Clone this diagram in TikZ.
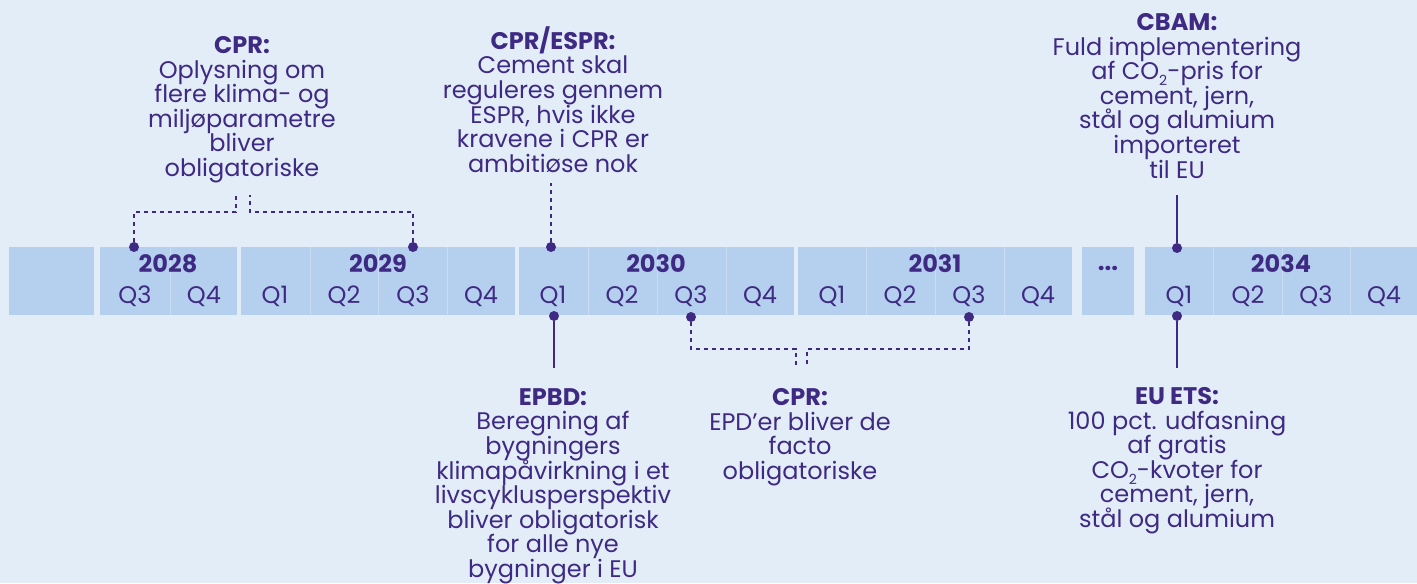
\documentclass[tikz,border=0pt]{standalone}
\usepackage{fontspec}
\setmainfont{Poppins}
\definecolor{bgblue}{HTML}{E3EDF8}
\definecolor{cellblue}{HTML}{B5D0EE}
\definecolor{sepblue}{HTML}{C9DCF2}
\definecolor{ink}{HTML}{3F2A83}
\newcommand{\cotwo}{CO\raisebox{-0.45ex}{\fontsize{7}{7}\selectfont 2}}
\newcommand{\tightlines}{\lineskiplimit=-20pt\relax}

\begin{document}
\begin{tikzpicture}[x=0.5pt,y=-0.5pt,
  qlabel/.style={text=ink,font=\fontsize{12}{12}\selectfont},
  year/.style={text=ink,font=\fontsize{12}{12}\selectfont\bfseries},
  note/.style={text=ink,align=center,inner sep=0pt,anchor=north,
    font=\fontsize{12}{12.3}\selectfont\tightlines},
  dot/.style={circle,fill=ink,inner sep=0pt,minimum size=5pt},
  link/.style={draw=ink,line width=0.7pt},
  dashlink/.style={draw=ink,line width=0.7pt,dash pattern=on 2pt off 2pt}]
	\useasboundingbox (0,0) rectangle (1417,583);
	\clip (0,0) rectangle (1417,583);
	\fill[bgblue] (0,0) rectangle (1417,583);

	% the bar
	\fill[cellblue] (9,247) rectangle (94,315);
	\fill[cellblue] (100,247) rectangle (237,315);
	\fill[cellblue] (241,247) rectangle (515,315);
	\fill[cellblue] (519,247) rectangle (794,315);
	\fill[cellblue] (798,247) rectangle (1072,315);
	\fill[cellblue] (1082,247) rectangle (1134,315);
	\fill[cellblue] (1145,247) rectangle (1417,315);
	\foreach \x in {170,310,378,447,588,657,726,866,935,1004,1213,1282,1350}
		\draw[sepblue,line width=0.5pt] (\x,247) -- (\x,315);

	\node[year] (y28) at (168,264) {2028};
	\node[year] (y29) at (378,264) {2029};
	\node[year] (y30) at (656,264) {2030};
	\node[year] (y31) at (935,264) {2031};
	\node[year] (y34) at (1281,264) {2034};
	\node[year] (more) at (1108,268) {...};
	\foreach \x/\q in {135/Q3,204/Q4,275/Q1,344/Q2,413/Q3,481/Q4,553/Q1,622/Q2,691/Q3,760/Q4,
		832/Q1,900/Q2,969/Q3,1038/Q4,1179/Q1,1248/Q2,1316/Q3,1384/Q4}
		\node[qlabel] at (\x,296) {\q};

	% markers
	\node[dot] (d28) at (134,247) {};
	\node[dot] (d29) at (413,247) {};
	\node[dot] (dEspr) at (551,247) {};
	\node[dot] (dCbam) at (1177,248) {};
	\node[dot] (dEpbd) at (554,316) {};
	\node[dot] (dCprA) at (691,317) {};
	\node[dot] (dCprB) at (969,317) {};
	\node[dot] (dEts) at (1177,316) {};

	% notes
	\node[note] (cprTop) at (242,36) {\textbf{CPR:}\\Oplysning om\\flere klima- og\\miljøparametre\\bliver\\obligatoriske};
	\node[note] (espr) at (553,26) {\textbf{CPR/ESPR:}\\Cement skal\\reguleres gennem\\ESPR, hvis ikke\\kravene i CPR er\\ambitiøse nok};
	\node[note] (cbam) at (1177,13) {\textbf{CBAM:}\\Fuld implementering\\af \cotwo-pris for\\cement, jern,\\stål og alumium\\importeret\\til EU};
	\node[note] (epbd) at (553,388) {\textbf{EPBD:}\\Beregning af\\bygningers\\klimapåvirkning i et\\livscyklusperspektiv\\bliver obligatorisk\\for alle nye\\bygninger i EU};
	\node[note] (cprBot) at (800,388) {\textbf{CPR:}\\EPD’er bliver de\\facto\\obligatoriske};
	\node[note] (ets) at (1177,387) {\textbf{EU ETS:}\\100 pct. udfasning\\af gratis\\\cotwo-kvoter for\\cement, jern,\\stål og alumium};

	% connectors
	\coordinate (cprTopL) at (236,195);
	\coordinate (cprTopR) at (250,195);
	\draw[dashlink] (d28) |- (236,212) -- (cprTopL);
	\draw[dashlink] (d29) |- (250,212) -- (cprTopR);
	\coordinate (esprEnd) at (551,183);
	\draw[dashlink] (dEspr) -- (esprEnd);
	\coordinate (cbamEnd) at (1177,195);
	\draw[link] (dCbam) -- (cbamEnd);
	\coordinate (epbdEnd) at (554,368);
	\draw[link] (dEpbd) -- (epbdEnd);
	\coordinate (etsEnd) at (1177,368);
	\draw[link] (dEts) -- (etsEnd);
	\coordinate (cprBotL) at (796,368);
	\coordinate (cprBotR) at (807,364);
	\draw[dashlink] (dCprA) |- (796,349) -- (cprBotL);
	\draw[dashlink] (dCprB) |- (807,349) -- (cprBotR);
\end{tikzpicture}
\end{document}
